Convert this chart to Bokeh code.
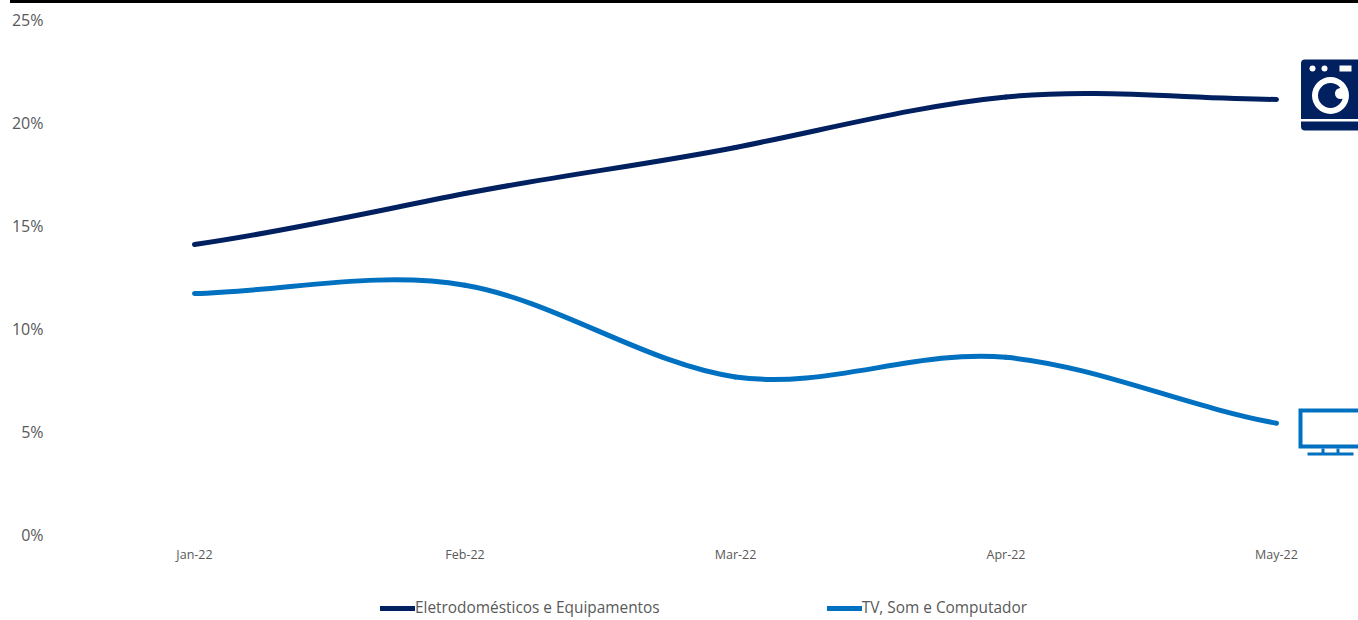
from bokeh.plotting import figure
from bokeh.embed import file_html
from bokeh.layouts import column
from bokeh.resources import INLINE
from bokeh.models import Div, Legend, LegendItem, Range1d, FixedTicker

# Chart data
months = ["Jan-22", "Feb-22", "Mar-22", "Apr-22", "May-22"]
appliances = [14.08, 16.55, 18.79, 21.24, 21.12]
electronics = [11.7, 12.1, 7.65, 8.6, 5.4]
y_ticks = [0, 5, 10, 15, 20, 25]
series_names = ["Eletrodomésticos e Equipamentos", "TV, Som e Computador"]

NAVY = "#002060"
BLUE = "#0070C0"
GREY = "#595959"
FONT = "Open Sans"

W, H = 1358, 620
RULE = 3
RULE_LEFT = 10
LEFT = 48
X0_PX, X_STEP = 194.0, 270.5
Y0_PX, Y_STEP = 534.0, 20.6

# Thin black rule across the top of the page
rule = Div(
    text="", width=W - RULE_LEFT, height=RULE, margin=(0, 0, 0, RULE_LEFT),
    styles={"background-color": "black", "overflow": "hidden", "line-height": "0"},
)

# The plot frame runs to the page bottom so the legend can sit inside it
p = figure(
    width=W, height=H - RULE, output_backend="svg", toolbar_location=None,
    x_range=Range1d((LEFT - X0_PX) / X_STEP, (W - X0_PX) / X_STEP),
    y_range=Range1d((Y0_PX - H) / Y_STEP, (Y0_PX - RULE) / Y_STEP),
    min_border_left=LEFT, min_border_right=0, min_border_top=0, min_border_bottom=0,
    outline_line_color=None, frame_width=W - LEFT, frame_height=H - RULE,
)
p.grid.visible = False

p.yaxis.ticker = FixedTicker(ticks=y_ticks)
p.yaxis.major_label_overrides = {t: f"{t}%" for t in y_ticks}
p.yaxis.major_label_text_font = FONT
p.yaxis.major_label_text_font_size = "16px"
p.yaxis.major_label_text_color = GREY
p.yaxis.major_label_standoff = 5
p.xaxis.fixed_location = -1 / Y_STEP
p.xaxis.ticker = FixedTicker(ticks=list(range(len(months))))
p.xaxis.major_label_overrides = dict(enumerate(months))
p.xaxis.major_label_text_font = FONT
p.xaxis.major_label_text_font_size = "12.5px"
p.xaxis.major_label_text_color = GREY
p.xaxis.major_label_standoff = 10
for ax in (p.xaxis, p.yaxis):
    ax.axis_line_color = None
    ax.major_tick_line_color = None
    ax.minor_tick_line_color = None
    ax.major_tick_out = 0
    ax.major_tick_in = 0


def smooth_segments(ys):
    """Cardinal-spline Bezier segments through the monthly points."""
    n = len(ys)
    seg = dict(x0=[], y0=[], x1=[], y1=[], cx0=[], cy0=[], cx1=[], cy1=[])
    for i in range(n - 1):
        start_pull = (ys[i + 1] - ys[i - 1]) / 5.5 if i > 0 else (ys[1] - ys[0]) / 4
        end_pull = (ys[i + 2] - ys[i]) / 5.5 if i + 2 < n else (ys[i + 1] - ys[i]) / 4
        seg["x0"].append(i)
        seg["y0"].append(ys[i])
        seg["x1"].append(i + 1)
        seg["y1"].append(ys[i + 1])
        seg["cx0"].append(i + 1 / 3)
        seg["cy0"].append(ys[i] + start_pull)
        seg["cx1"].append(i + 2 / 3)
        seg["cy1"].append(ys[i + 1] - end_pull)
    return seg


r1 = p.bezier(line_color=NAVY, line_width=5, line_cap="round", **smooth_segments(appliances))
r2 = p.bezier(line_color=BLUE, line_width=5, line_cap="round", **smooth_segments(electronics))


def px(x):
    return (x - X0_PX) / X_STEP


def py(y):
    return (Y0_PX - y) / Y_STEP


def box(left, right, top, bottom, color, radius=0):
    p.quad(left=px(left), right=px(right), top=py(top), bottom=py(bottom),
           fill_color=color, line_color=None, border_radius=radius)


def disc(x, y, diameter, color):
    p.scatter(x=[px(x)], y=[py(y)], size=diameter, marker="circle",
              fill_color=color, line_color=None)


# Washing machine pictogram
box(1300.5, 1362, 59, 130, NAVY, 4)
box(1300.5, 1358, 118.5, 121, "white")
box(1339, 1351, 65, 71, "white")
disc(1312, 68, 6, "white")
disc(1324, 68, 6, "white")
disc(1330, 95, 37, "white")
disc(1330, 95, 25, NAVY)
disc(1340, 93, 11, "white")

# Monitor pictogram
box(1298, 1358, 408, 448, BLUE)
box(1302, 1358, 412, 444, "white")
box(1321, 1324, 448, 453, BLUE)
box(1336, 1339, 448, 453, BLUE)
box(1307, 1353, 452, 455, BLUE)

legend = Legend(
    items=[LegendItem(label=series_names[0], renderers=[r1]),
           LegendItem(label=series_names[1], renderers=[r2])],
    orientation="horizontal", location=(332, 2),
    glyph_width=35, glyph_height=16, label_standoff=0, spacing=167,
    padding=0, margin=0, border_line_color=None, background_fill_alpha=0,
    label_text_font=FONT, label_text_font_size="15.4px", label_text_color=GREY,
)
p.add_layout(legend, "center")

page = column(rule, p, spacing=0)
open("out.html", "w").write(file_html(page, INLINE))
